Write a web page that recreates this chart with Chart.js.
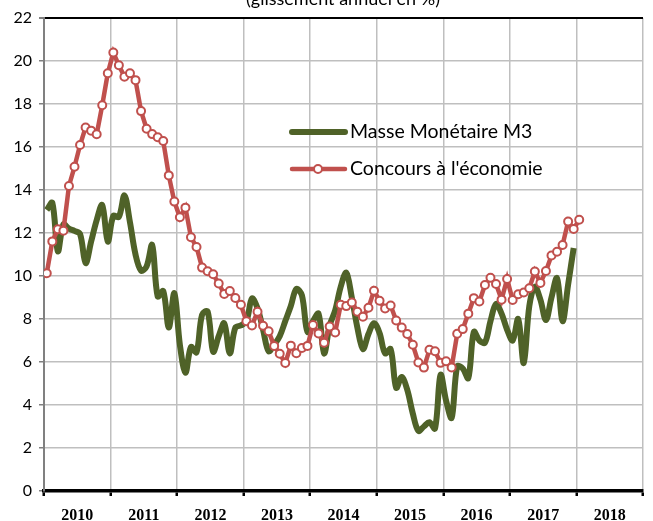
<!DOCTYPE html>
<html>
<head>
<meta charset="utf-8">
<script src="https://cdn.jsdelivr.net/npm/chart.js@4/dist/chart.umd.min.js"></script>
<style>
  html, body { margin: 0; padding: 0; background: #ffffff; }
  #wrap { width: 653px; height: 521px; position: relative; overflow: hidden; }
</style>
</head>
<body>
<div id="wrap"><canvas id="chart" width="653" height="521"></canvas></div>
<script>
// Year labels along the bottom axis (one band of 12 months per year)
const years = [2010, 2011, 2012, 2013, 2014, 2015, 2016, 2017, 2018];

// Monthly annual growth rates, in %, starting January 2010
const masseMonetaireM3 = [
  13.07, 13.4, 11.15, 12.4, 12.2, 12.1, 11.95, 10.6, 11.6, 12.6, 13.3, 11.6,
  12.8, 12.75, 13.75, 12.5, 11.0, 10.25, 10.45, 11.44, 9.05, 9.3, 7.6, 9.2,
  6.8, 5.5, 6.7, 6.45, 8.2, 8.35, 6.48, 7.2, 7.8, 6.4, 7.6, 7.7,
  7.9, 8.95, 8.5, 7.5, 6.5, 6.8, 7.2, 7.9, 8.6, 9.4, 9.1, 7.4,
  7.9, 8.25, 6.4, 7.7, 8.4, 9.5, 10.15, 9.0, 7.6, 6.6, 7.3, 7.8,
  7.35, 6.4, 6.6, 4.8, 5.3, 4.7, 3.6, 2.8, 3.0, 3.2, 2.9, 5.4,
  4.2, 3.4, 5.8, 5.7, 5.25, 7.4, 7.0, 6.9, 7.9, 8.7, 8.25, 7.5,
  7.0, 8.0, 5.95, 8.6, 9.5, 8.9, 7.95, 9.0, 9.9, 7.9, 9.6, 11.3
];

const concoursEconomie = [
  10.13, 11.61, 12.17, 12.11, 14.19, 15.08, 16.09, 16.91, 16.76, 16.59, 17.94, 19.43,
  20.39, 19.8, 19.27, 19.43, 19.11, 17.67, 16.85, 16.6, 16.45, 16.28, 14.68, 13.46,
  12.73, 13.18, 11.8, 11.35, 10.39, 10.22, 10.08, 9.65, 9.16, 9.3, 8.98, 8.66,
  7.9, 7.7, 8.34, 7.69, 7.43, 6.75, 6.38, 5.95, 6.76, 6.41, 6.65, 6.75,
  7.72, 7.33, 6.9, 7.65, 7.37, 8.66, 8.6, 8.77, 8.34, 8.11, 8.52, 9.31,
  8.85, 8.49, 8.63, 7.93, 7.6, 7.3, 6.8, 5.98, 5.74, 6.57, 6.5, 5.96,
  6.03, 5.75, 7.31, 7.53, 8.25, 8.97, 8.81, 9.58, 9.92, 9.63, 8.9, 9.86,
  8.88, 9.15, 9.23, 9.43, 10.21, 9.68, 10.23, 10.95, 11.13, 11.44, 12.53, 12.19,
  12.62
];

const seriesNames = ['Masse Monétaire M3', "Concours à l'économie"];
const titleText = '(glissement annuel en %)';
const yTicks = [0, 2, 4, 6, 8, 10, 12, 14, 16, 18, 20, 22];

const MONTHS = 12;
const toPoints = arr => arr.map((v, i) => ({ x: i + 0.5, y: v }));

const GREEN = '#4F6228';
const RED = '#C0504D';
const GRID = '#BFBFBF';

// Title (partly above the canvas top) and the in-plot legend
const decorations = {
  id: 'decorations',
  afterDraw(chart) {
    const ctx = chart.ctx;
    ctx.save();
    ctx.fillStyle = '#000';
    ctx.font = '18px Lato';
    ctx.textAlign = 'center';
    ctx.textBaseline = 'alphabetic';
    ctx.fillText(titleText, 343, 5);

    const ds = chart.data.datasets;
    const rows = [132, 169];
    ds.forEach((d, k) => {
      const y = rows[k];
      ctx.strokeStyle = d.borderColor;
      ctx.lineWidth = d.borderWidth;
      ctx.lineCap = 'round';
      ctx.beginPath();
      ctx.moveTo(292, y);
      ctx.lineTo(345, y);
      ctx.stroke();
      if (d.pointRadius > 0) {
        ctx.fillStyle = d.pointBackgroundColor;
        ctx.strokeStyle = d.pointBorderColor;
        ctx.lineWidth = d.pointBorderWidth;
        ctx.beginPath();
        ctx.arc(318, y, d.pointRadius, 0, Math.PI * 2);
        ctx.fill();
        ctx.stroke();
      }
      ctx.fillStyle = '#000';
      ctx.font = '19.5px Lato';
      ctx.textAlign = 'left';
      ctx.textBaseline = 'middle';
      ctx.fillText(d.label, 350, y);
    });
    ctx.restore();
  }
};

new Chart(document.getElementById('chart'), {
  type: 'line',
  data: {
    datasets: [
      {
        label: seriesNames[0],
        data: toPoints(masseMonetaireM3),
        borderColor: GREEN,
        borderWidth: 6,
        pointRadius: 0,
        tension: 0.35,
        order: 2
      },
      {
        label: seriesNames[1],
        data: toPoints(concoursEconomie),
        borderColor: RED,
        borderWidth: 4.5,
        pointRadius: 4,
        pointBackgroundColor: '#ffffff',
        pointBorderColor: RED,
        pointBorderWidth: 2,
        tension: 0,
        order: 1
      }
    ]
  },
  options: {
    responsive: false,
    animation: false,
    devicePixelRatio: 1,
    layout: { padding: { top: 18, right: 0, left: 0, bottom: 0 } },
    plugins: { legend: { display: false }, title: { display: false }, tooltip: { enabled: false } },
    scales: {
      x: {
        type: 'linear',
        min: 0,
        max: years.length * MONTHS,
        afterBuildTicks(scale) {
          const t = [];
          for (let v = 0; v <= years.length * MONTHS; v += MONTHS / 2) t.push({ value: v });
          scale.ticks = t;
        },
        afterFit(scale) { scale.height = 30; },
        ticks: {
          autoSkip: false,
          maxRotation: 0,
          padding: 10,
          color: '#000',
          font: { family: 'Liberation Serif', size: 16, weight: 'bold' },
          callback(v) {
            return v % MONTHS === MONTHS / 2 ? String(years[(v - MONTHS / 2) / MONTHS]) : '';
          }
        },
        grid: {
          color: ctx => (ctx.tick && ctx.tick.value % MONTHS === 0) ? GRID : 'rgba(0,0,0,0)',
          lineWidth: 1.5,
          tickColor: ctx => (ctx.tick && ctx.tick.value % MONTHS === 0) ? '#000' : 'rgba(0,0,0,0)',
          tickLength: 5,
          tickWidth: 2.5
        },
        border: { color: '#000', width: 3.5 }
      },
      y: {
        min: 0,
        max: 22,
        afterBuildTicks(scale) { scale.ticks = yTicks.map(v => ({ value: v })); },
        afterFit(scale) { scale.width = 44; },
        ticks: {
          padding: 7,
          color: '#000',
          font: { family: 'Lato', size: 16 }
        },
        grid: {
          color: ctx => (ctx.tick && ctx.tick.value === 22) ? '#000' : GRID,
          lineWidth: ctx => (ctx.tick && ctx.tick.value === 22) ? 2 : 1.5,
          tickColor: '#808080',
          tickLength: 5
        },
        border: { color: '#808080', width: 2 }
      }
    }
  },
  plugins: [decorations]
});
</script>
</body>
</html>
